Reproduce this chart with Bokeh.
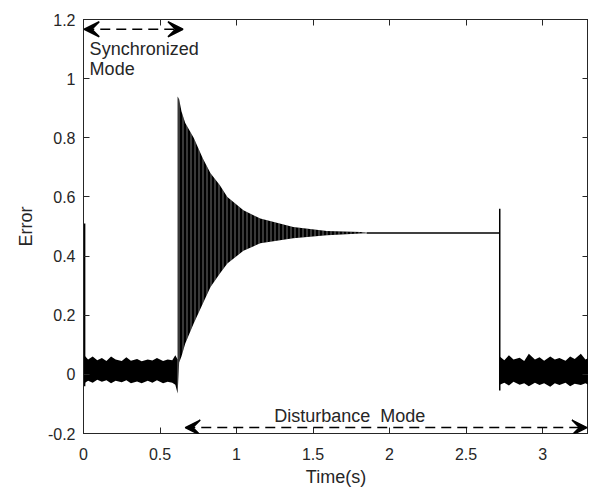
from bokeh.plotting import figure
from bokeh.models import (Range1d, LinearAxis, FixedTicker, Arrow, VeeHead, Label)
from bokeh.embed import file_html
from bokeh.resources import INLINE

# ---------------- data ----------------
# initial spike at t = 0
spike0_t = [0.004, 0.004]
spike0_y = [-0.04, 0.51]

# synchronized-mode noise band (0 .. 0.615 s)
noise1_t = [0.005, 0.03, 0.06, 0.09, 0.12, 0.15, 0.18, 0.21, 0.25, 0.28, 0.31, 0.35, 0.38, 0.42, 0.45, 0.48, 0.52, 0.55, 0.58, 0.6, 0.615]
noise1_hi = [0.065, 0.05, 0.06, 0.048, 0.055, 0.045, 0.06, 0.05, 0.045, 0.058, 0.046, 0.052, 0.044, 0.05, 0.047, 0.055, 0.045, 0.05, 0.048, 0.065, 0.05]
noise1_lo = [-0.03, -0.022, -0.028, -0.018, -0.025, -0.02, -0.03, -0.022, -0.027, -0.02, -0.03, -0.024, -0.03, -0.022, -0.028, -0.02, -0.03, -0.025, -0.028, -0.035, -0.065]

# disturbance oscillation envelope (0.615 .. 1.85 s)
osc_t = [0.615, 0.625, 0.64, 0.665, 0.72, 0.78, 0.83, 0.89, 0.94, 1.045, 1.155, 1.37, 1.59, 1.81, 1.85]
osc_hi = [0.94, 0.93, 0.89, 0.85, 0.80, 0.73, 0.68, 0.64, 0.60, 0.555, 0.527, 0.498, 0.485, 0.481, 0.479]
osc_lo = [-0.065, 0.04, 0.06, 0.104, 0.172, 0.24, 0.295, 0.34, 0.375, 0.418, 0.443, 0.46, 0.47, 0.476, 0.477]

# steady value until the disturbance is removed
flat_t = [1.85, 2.72]
flat_y = [0.478, 0.478]

# spike at t = 2.72
spike1_t = [2.72, 2.72]
spike1_y = [-0.055, 0.56]

# noise band after 2.72 s
noise2_t = [2.72, 2.75, 2.78, 2.81, 2.85, 2.88, 2.91, 2.95, 2.98, 3.01, 3.05, 3.08, 3.11, 3.15, 3.18, 3.21, 3.25, 3.28, 3.3]
noise2_hi = [0.06, 0.048, 0.065, 0.05, 0.056, 0.045, 0.07, 0.05, 0.058, 0.046, 0.06, 0.05, 0.055, 0.046, 0.06, 0.052, 0.07, 0.05, 0.055]
noise2_lo = [-0.035, -0.028, -0.038, -0.025, -0.035, -0.03, -0.04, -0.028, -0.036, -0.03, -0.042, -0.03, -0.036, -0.028, -0.04, -0.032, -0.036, -0.03, -0.035]

x_ticks = [0, 0.5, 1, 1.5, 2, 2.5, 3]
x_labels = ["0", "0.5", "1", "1.5", "2", "2.5", "3"]
y_ticks = [-0.2, 0, 0.2, 0.4, 0.6, 0.8, 1, 1.2]
y_labels = ["-0.2", "0", "0.2", "0.4", "0.6", "0.8", "1", "1.2"]

FONT = "Liberation Sans"
AX = "#262626"

p = figure(width=588, height=489, output_backend="svg", toolbar_location=None,
           x_range=Range1d(0, 3.3), y_range=Range1d(-0.2, 1.2),
           min_border_left=83, min_border_right=0, min_border_top=19, min_border_bottom=56)
p.xgrid.visible = False
p.ygrid.visible = False
p.outline_line_color = AX
p.outline_line_width = 1
p.background_fill_color = "white"
p.border_fill_color = "white"

# signal
p.varea(x=noise1_t, y1=noise1_lo, y2=noise1_hi, fill_color="black")
p.line(spike0_t, spike0_y, line_color="black", line_width=2.5)
p.varea(x=osc_t, y1=osc_lo, y2=osc_hi, fill_color="black",
        hatch_pattern="vertical_line", hatch_color="white", hatch_alpha=0.55,
        hatch_scale=4, hatch_weight=0.8)
p.line(flat_t, flat_y, line_color="black", line_width=1.5)
p.line(spike1_t, spike1_y, line_color="black", line_width=1.5)
p.varea(x=noise2_t, y1=noise2_lo, y2=noise2_hi, fill_color="black")

# axes styling
def style_axis(ax, ticks, labels, show_labels=True):
    ax.ticker = FixedTicker(ticks=ticks)
    ax.major_label_overrides = {t: l for t, l in zip(ticks, labels)}
    ax.major_tick_in = 6
    ax.major_tick_out = 0
    ax.minor_tick_line_color = None
    ax.axis_line_color = AX
    ax.major_tick_line_color = AX
    ax.major_label_text_font = FONT
    ax.major_label_text_color = AX
    ax.major_label_text_font_size = "16px" if show_labels else "0px"
    ax.axis_label_text_font = FONT
    ax.axis_label_text_font_style = "normal"
    ax.axis_label_text_color = AX
    ax.axis_label_text_font_size = "18px"
    if not show_labels:
        ax.major_label_standoff = 0

style_axis(p.xaxis[0], x_ticks, x_labels)
style_axis(p.yaxis[0], y_ticks, y_labels)
p.xaxis[0].axis_label = "Time(s)"
p.yaxis[0].axis_label = "Error"
p.xaxis[0].major_label_standoff = 14
p.yaxis[0].major_label_standoff = 8
p.xaxis[0].axis_label_standoff = 4
p.yaxis[0].axis_label_standoff = 9

top_ax = LinearAxis()
style_axis(top_ax, x_ticks, ["" for _ in x_ticks], show_labels=False)
p.add_layout(top_ax, "above")
right_ax = LinearAxis()
style_axis(right_ax, y_ticks, ["" for _ in y_ticks], show_labels=False)
p.add_layout(right_ax, "right")

# annotations
head = dict(size=15, fill_color="black", line_color="black", line_width=1.5)
p.add_layout(Arrow(x_start=0.005, y_start=1.167, x_end=0.65, y_end=1.167,
                   line_color="black", line_width=1.5, line_dash="10 6",
                   start=VeeHead(**head), end=VeeHead(**head)))
p.add_layout(Arrow(x_start=0.665, y_start=-0.18, x_end=3.29, y_end=-0.18,
                   line_color="black", line_width=1.5, line_dash="10 6",
                   start=VeeHead(**head), end=VeeHead(**head)))

for txt, x, y in [("Synchronized", 0.04, 1.10), ("Mode", 0.04, 1.032),
                  ("Disturbance\u00a0\u00a0Mode", 1.246, -0.142)]:
    p.add_layout(Label(x=x, y=y, text=txt, text_font=FONT, text_font_size="18px",
                       text_color=AX, text_baseline="alphabetic", text_align="left"))

open("out.html", "w").write(file_html(p, INLINE))
